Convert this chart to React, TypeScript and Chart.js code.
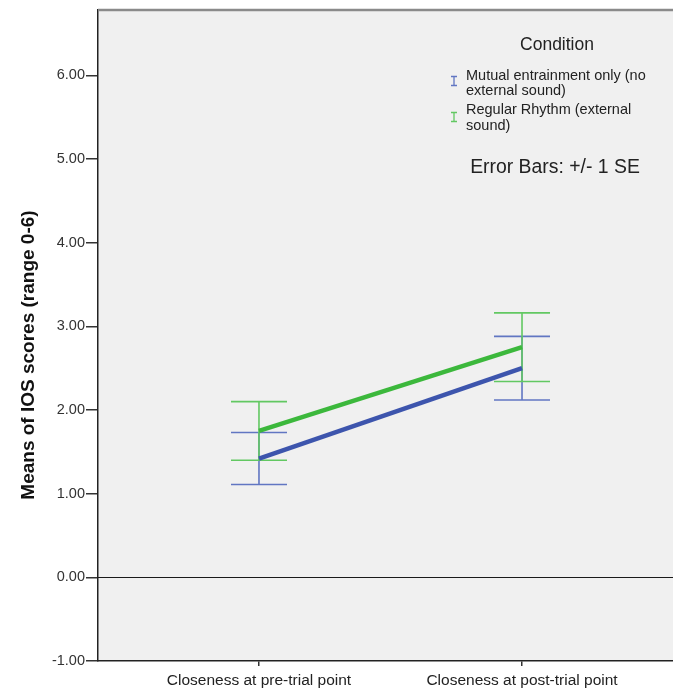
import { useEffect, useRef } from "react";
import { Chart, registerables } from "chart.js";

Chart.register(...registerables);

// Time points on the x axis
const categories = ["Closeness at pre-trial point", "Closeness at post-trial point"];

// Mean IOS scores and standard errors per condition
const mutualMeans = [1.42, 2.5];
const mutualSE = [0.31, 0.38];
const rhythmMeans = [1.75, 2.75];
const rhythmSE = [0.35, 0.41];

// Legend entries (wrapped as displayed)
const mutualLabel = ["Mutual entrainment only (no", "external sound)"];
const rhythmLabel = ["Regular Rhythm (external", "sound)"];

const yTickValues = [-1, 0, 1, 2, 3, 4, 5, 6];

const FONT = "Arial, 'Liberation Sans', sans-serif";
const BLUE = "#3d55ad";
const GREEN = "#3cb83c";
const BLUE_ERR = "#6176c2";
const GREEN_ERR = "#62c862";

type Series = { means: number[]; se: number[]; errColor: string };
const errorSeries: Series[] = [
  { means: mutualMeans, se: mutualSE, errColor: BLUE_ERR },
  { means: rhythmMeans, se: rhythmSE, errColor: GREEN_ERR },
];

const decorPlugin = {
  id: "spssDecor",
  beforeDraw(chart: any) {
    const { ctx, chartArea } = chart;
    ctx.save();
    ctx.fillStyle = "#f0f0f0";
    ctx.fillRect(chartArea.left, chartArea.top, chartArea.right - chartArea.left, chartArea.bottom - chartArea.top);
    ctx.restore();
  },
  beforeDatasetsDraw(chart: any) {
    const { ctx, chartArea, scales } = chart;
    const x = scales.x;
    const y = scales.y;
    ctx.save();
    // reference line at zero
    const y0 = Math.round(y.getPixelForValue(0)) + 0.5;
    ctx.strokeStyle = "#1a1a1a";
    ctx.lineWidth = 1.2;
    ctx.beginPath();
    ctx.moveTo(chartArea.left, y0);
    ctx.lineTo(chartArea.right, y0);
    ctx.stroke();

    // error bars (+/- 1 SE)
    const half = 28;
    errorSeries.forEach((s) => {
      ctx.strokeStyle = s.errColor;
      ctx.lineWidth = 1.6;
      s.means.forEach((m, i) => {
        const px = x.getPixelForValue(i);
        const top = y.getPixelForValue(m + s.se[i]);
        const bot = y.getPixelForValue(m - s.se[i]);
        ctx.beginPath();
        ctx.moveTo(px, top);
        ctx.lineTo(px, bot);
        ctx.moveTo(px - half, top);
        ctx.lineTo(px + half, top);
        ctx.moveTo(px - half, bot);
        ctx.lineTo(px + half, bot);
        ctx.stroke();
      });
    });
    ctx.restore();
  },
  afterDraw(chart: any) {
    const { ctx, chartArea } = chart;
    ctx.save();
    // top frame line
    ctx.strokeStyle = "#8a8a8a";
    ctx.lineWidth = 2.5;
    ctx.beginPath();
    ctx.moveTo(chartArea.left, chartArea.top);
    ctx.lineTo(chartArea.right, chartArea.top);
    ctx.stroke();

    // y axis title
    ctx.fillStyle = "#111";
    ctx.font = `bold 19px ${FONT}`;
    ctx.textAlign = "center";
    ctx.textBaseline = "middle";
    ctx.translate(29, 355);
    ctx.rotate(-Math.PI / 2);
    ctx.fillText("Means of IOS scores (range 0-6)", 0, 0);
    ctx.restore();

    // legend
    ctx.save();
    ctx.fillStyle = "#222";
    ctx.textBaseline = "middle";
    ctx.textAlign = "center";
    ctx.font = `17.5px ${FONT}`;
    ctx.fillText("Condition", 557, 45);

    ctx.textAlign = "left";
    ctx.font = `14.5px ${FONT}`;
    ctx.fillText(mutualLabel[0], 466, 76);
    ctx.fillText(mutualLabel[1], 466, 91);
    ctx.fillText(rhythmLabel[0], 466, 110);
    ctx.fillText(rhythmLabel[1], 466, 126);

    const icon = (cx: number, cy: number, color: string) => {
      ctx.strokeStyle = color;
      ctx.lineWidth = 1.3;
      ctx.beginPath();
      ctx.moveTo(cx, cy - 4.5);
      ctx.lineTo(cx, cy + 4.5);
      ctx.moveTo(cx - 3, cy - 4.5);
      ctx.lineTo(cx + 3, cy - 4.5);
      ctx.moveTo(cx - 3, cy + 4.5);
      ctx.lineTo(cx + 3, cy + 4.5);
      ctx.stroke();
    };
    icon(454, 81, BLUE_ERR);
    icon(454, 117, GREEN_ERR);

    ctx.fillStyle = "#222";
    ctx.textAlign = "center";
    ctx.font = `19.4px ${FONT}`;
    ctx.fillText("Error Bars: +/- 1 SE", 555, 168);
    ctx.restore();
  },
};

export default function App() {
  const canvasRef = useRef<HTMLCanvasElement | null>(null);

  useEffect(() => {
    const canvas = canvasRef.current;
    if (!canvas) return;
    const chart = new Chart(canvas, {
      type: "line",
      data: {
        datasets: [
          {
            label: mutualLabel.join(" "),
            data: mutualMeans.map((v, i) => ({ x: i, y: v })),
            borderColor: BLUE,
            borderWidth: 4.5,
            pointRadius: 0,
            tension: 0,
          },
          {
            label: rhythmLabel.join(" "),
            data: rhythmMeans.map((v, i) => ({ x: i, y: v })),
            borderColor: GREEN,
            borderWidth: 4.5,
            pointRadius: 0,
            tension: 0,
          },
        ],
      },
      options: {
        animation: false,
        responsive: false,
        maintainAspectRatio: false,
        layout: { padding: { top: 10, right: 0, left: 0, bottom: 0 } },
        plugins: { legend: { display: false }, tooltip: { enabled: false } },
        scales: {
          x: {
            type: "linear",
            min: -0.612,
            max: 1.574,
            afterFit: (s: any) => {
              s.height = 30;
            },
            afterBuildTicks: (s: any) => {
              s.ticks = categories.map((_, i) => ({ value: i }));
            },
            ticks: {
              autoSkip: false,
              maxRotation: 0,
              padding: 5,
              color: "#222",
              font: { family: FONT, size: 15.5 },
              callback: (v: any) => categories[Number(v)] ?? "",
            },
            grid: { drawOnChartArea: false, drawTicks: true, tickLength: 5, color: "#333", lineWidth: 1.5 },
            border: { display: true, color: "#222", width: 1.5 },
          },
          y: {
            type: "linear",
            min: -1,
            max: 6.78,
            afterFit: (s: any) => {
              s.width = 98;
            },
            afterBuildTicks: (s: any) => {
              s.ticks = yTickValues.map((v) => ({ value: v }));
            },
            ticks: {
              padding: 1,
              color: "#333",
              font: { family: FONT, size: 14.5 },
              callback: (v: any) => Number(v).toFixed(2),
            },
            grid: { drawOnChartArea: false, drawTicks: true, tickLength: 12, color: "#333", lineWidth: 1.5 },
            border: { display: true, color: "#222", width: 1.5 },
          },
        },
      },
      plugins: [decorPlugin],
    });
    return () => chart.destroy();
  }, []);

  return (
    <div style={{ position: "absolute", left: 0, top: 0, width: 673, height: 691, background: "#fff" }}>
      <canvas ref={canvasRef} width={673} height={691} style={{ display: "block", width: 673, height: 691 }} />
    </div>
  );
}
